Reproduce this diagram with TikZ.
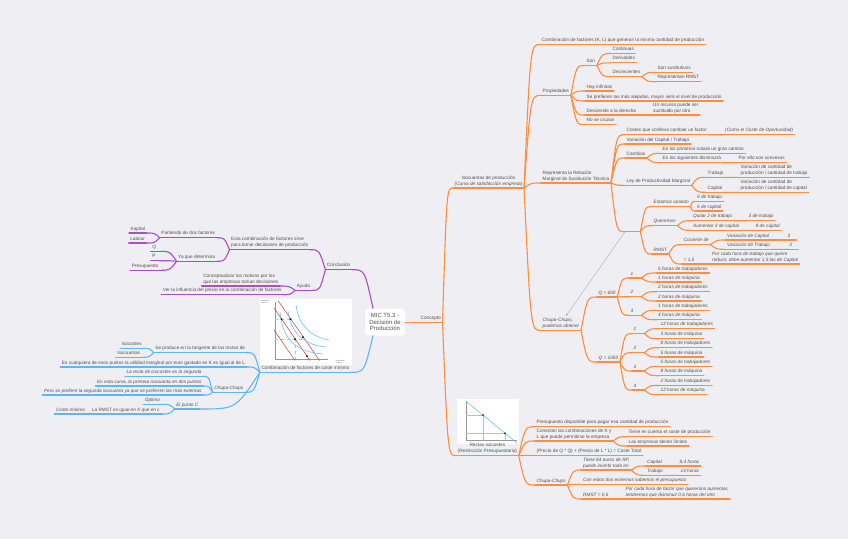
\documentclass[tikz,border=0pt]{standalone}
\usepackage{fontspec}
\setmainfont{Liberation Sans}
\usetikzlibrary{calc,arrows.meta}
\definecolor{bg}{RGB}{239,238,243}
\definecolor{ink}{RGB}{80,80,80}
\definecolor{orng}{RGB}{255,141,61}
\definecolor{purp}{RGB}{168,78,200}
\definecolor{skyb}{RGB}{92,184,245}
\definecolor{guide}{RGB}{236,170,170}
\definecolor{redl}{RGB}{205,60,50}

\begin{document}
\begin{tikzpicture}[x=1pt, y=-1pt,
    curve/.style={to path={.. controls ($(\tikztostart |- \tikztotarget)!0.4!(\tikztotarget)$) .. (\tikztotarget)}},
    oline/.style={draw=orng, line width=1.1pt, line cap=round},
    pline/.style={draw=purp, line width=1.1pt, line cap=round},
    bline/.style={draw=skyb, line width=1.1pt, line cap=round},
    topic/.style={inner xsep=1.5pt, inner ysep=1.1pt, text=ink, font=\fontsize{4.7}{6}\selectfont, align=left, text depth=0.3ex},
    ital/.style={font=\fontsize{4.7}{6}\selectfont\itshape},
    num/.style={text width=9pt},
    otopic/.style={topic, anchor=south west, append after command={(\tikzlastnode.south west) edge[oline] (\tikzlastnode.south east)}},
    ptopic/.style={topic, anchor=south east, append after command={(\tikzlastnode.south west) edge[pline] (\tikzlastnode.south east)}},
    btopic/.style={topic, anchor=south east, append after command={(\tikzlastnode.south west) edge[bline] (\tikzlastnode.south east)}},
    mic/.style={fill=white, rounded corners=3pt, minimum width=40pt, minimum height=27pt, inner sep=1pt, align=center, text=ink, font=\fontsize{6}{6.6}\selectfont},
    rel/.style={draw=ink!45, line width=0.4pt, -{Stealth[length=2.5pt, width=2.5pt]}},
]

    % Background
    \fill[bg] (0,0) rectangle (848,539);

    % Chart: coste minimo
    \fill[white] (260,299) rectangle (352,365);
    \draw[ink!60, line width=0.3pt] (274.7,302) -- (274.7,358.7) -- (328,358.7);
    \draw[guide, dashed, line width=0.3pt] (274.7,339) -- (303,339) (295,339) -- (295,358.7) (274.7,319) -- (290.5,319);
    \draw[redl, line width=0.5pt] (274,330) -- (295,360.5) (274,308) -- (310,360.5) (278,300.5) -- (319.5,360.5);
    \draw[skyb, line width=0.5pt] (280,312) .. controls (283,341) and (297,352) .. (323,354)
        (288,311) .. controls (291,334) and (305,345) .. (326,347)
        (296,305) .. controls (299,327) and (312,337) .. (329,340);
    \fill[black] (281.5,319) circle (1pt) (290.5,319) circle (1pt) (295,339) circle (1pt) (303,337) circle (1pt) (307,356) circle (1pt);
    \node[font=\fontsize{1.6}{2}\selectfont, text=ink, align=left, anchor=north west, inner sep=0pt] (ejk) at (261,300.5) {Cantidad de\\capital K};
    \node[font=\fontsize{1.6}{2}\selectfont, text=ink, align=left, anchor=north west, inner sep=0pt] (ejl) at (336,360) {Cantidad de\\trabajo L};

    % Chart: isocoste
    \fill[white] (456.7,399) rectangle (519.3,444.3);
    \draw[ink!60, line width=0.3pt] (465.7,401) -- (465.7,439.7) -- (517,439.7);
    \draw[guide, line width=0.3pt] (465.7,415) -- (483,415) -- (483,439.7) (465.7,433.3) -- (505,433.3) -- (505,439.7);
    \draw[skyb, line width=0.5pt] (465.7,401) -- (517,443);
    \fill[black] (483,415) circle (0.9pt) (505,433.3) circle (0.9pt);

    % Central topic
    \node[mic] (mic) at (385,322) {MIC T5.3 -\\Decisión de\\Producción};
    \coordinate (mtop) at ([xshift=-12pt]mic.north);
    \coordinate (mbot) at ([xshift=-12pt]mic.south);

    % Concepto (orange)
    \node[otopic] (con) at (419,322.5) {Concepto};
    \node[otopic, align=center] (iso) at (453,188) {Isocuantas de producción\\{\itshape (Curva de satisfacción empresa)}};
    \node[otopic] (comb) at (540,44.5) {Combinación de factores (K, L) que generan la misma cantidad de producción};

    % Propiedades
    \node[otopic] (prop) at (541,95.3) {Propiedades};
    \node[otopic] (son) at (585,65.5) {Son};
    \node[otopic] (cont) at (611,53.5) {Continuas};
    \node[otopic] (deriv) at (611,62.8) {Derivables};
    \node[otopic] (decr) at (611,76.7) {Decrecientes};
    \node[otopic] (sust) at (656,72.3) {Son sustitutivos};
    \node[otopic] (repr) at (656,81.7) {Representan RMST};
    \node[otopic] (hay) at (585,91) {Hay infinitas};
    \node[otopic] (pref) at (585,101) {Se prefieren las más alejadas, mayor será el nivel de producción};
    \node[otopic] (desc) at (585,115) {Desciende a la derecha};
    \node[otopic] (recu) at (651.5,115) {Un recurso puede ser\\sustituido por otro};
    \node[otopic] (nocr) at (585,124.7) {No se cruzan};

    % RMST
    \node[otopic] (rmst) at (541,183) {Representa la Relación\\Marginal de Sustitución Técnica};
    \node[otopic] (cost) at (625,134.7) {Costes que conlleva cambiar un factor};
    \node[otopic, ital] (opor) at (723.5,134.7) {(Como el Coste de Oportunidad)};
    \node[otopic] (vari) at (625,144) {Variación del Capital / Trabajo};
    \node[otopic] (camb) at (625,158) {Cambios};
    \node[otopic] (prim) at (661,153.3) {En los primeros notará un gran cambio};
    \node[otopic] (sigu) at (661,162.7) {En los siguientes disminuirá};
    \node[otopic] (conv) at (737,162.7) {Por ello son convexas};
    \node[otopic] (ley) at (625,185.3) {Ley de Productividad Marginal};
    \node[otopic] (trab) at (706,177.3) {Trabajo};
    \node[otopic] (vtra) at (739,177.3) {Variación de cantidad de\\producción / cantidad de trabajo};
    \node[otopic] (capi) at (706,192.3) {Capital};
    \node[otopic] (vcap) at (739,192.3) {Variación de cantidad de\\producción / cantidad de capital};
    \node[otopic, minimum width=15pt] (ejem) at (625,231.7) {};
    \node[otopic, ital] (usa) at (652,206.7) {Estamos usando};
    \node[otopic, ital] (u5) at (695.5,201.3) {5 de trabajo};
    \node[otopic, ital] (u6) at (695.5,211) {6 de capital};
    \node[otopic, ital] (quer) at (652,225.7) {Queremos};
    \node[otopic, ital] (quit) at (691.5,220.7) {Quitar 2 de trabajo};
    \node[otopic, ital] (q3) at (747,220.7) {3 de trabajo};
    \node[otopic, ital] (aume) at (691.5,230.3) {Aumentar 3 de capital};
    \node[otopic, ital] (q9) at (754,230.3) {9 de capital};
    \node[otopic, ital] (rms) at (652,254) {RMST};
    \node[otopic, ital] (coc) at (682,244.7) {Cociente de};
    \node[otopic, ital] (vc) at (725.5,240) {Variación de Capital};
    \node[otopic, ital, text width=7pt] (v3) at (786,240) {3};
    \node[otopic, ital] (vt) at (725.5,249.3) {Variación de Trabajo};
    \node[otopic, ital, text width=7pt] (v2) at (788,249.3) {2};
    \node[otopic, ital] (igu) at (682,264) {= 1,5};
    \node[otopic, ital] (porc) at (710.5,264) {Por cada hora de trabajo que quiere\\reducir, debe aumentar 1,5 las de Capital};

    % Chupa-Chups (isocuantas)
    \node[otopic, ital] (chu) at (541,330.5) {Chupa-Chups,\\podemos obtener};
    \node[otopic, ital] (q600) at (597,297) {Q = 600};
    \node[otopic, ital, num] (a1) at (629,278) {1};
    \node[otopic, ital] (a1t) at (656.5,273) {5 horas de trabajadores};
    \node[otopic, ital] (a1m) at (656.5,282) {1 horas de máquina};
    \node[otopic, ital, num] (a2) at (629,296.7) {2};
    \node[otopic, ital] (a2t) at (656.5,291.7) {2 horas de trabajadores};
    \node[otopic, ital] (a2m) at (656.5,301) {2 horas de máquina};
    \node[otopic, ital, num] (a3) at (629,315.3) {3};
    \node[otopic, ital] (a3t) at (656.5,310.3) {1 horas de trabajadores};
    \node[otopic, ital] (a3m) at (656.5,319.7) {4 horas de máquina};
    \node[otopic, ital] (q1050) at (597,362) {Q = 1050};
    \node[otopic, ital, num] (b1) at (632,333.7) {1};
    \node[otopic, ital] (b1t) at (659,328.7) {12 horas de trabajadores};
    \node[otopic, ital] (b1m) at (659,338.7) {3 horas de máquina};
    \node[otopic, ital, num] (b2) at (632,352.7) {2};
    \node[otopic, ital] (b2t) at (659,347.7) {8 horas de trabajadores};
    \node[otopic, ital] (b2m) at (659,357) {5 horas de máquina};
    \node[otopic, ital, num] (b3) at (632,371) {3};
    \node[otopic, ital] (b3t) at (659,366.3) {5 horas de trabajadores};
    \node[otopic, ital] (b3m) at (659,375.7) {8 horas de máquina};
    \node[otopic, ital, num] (b4) at (632,390) {4};
    \node[otopic, ital] (b4t) at (659,385.3) {2 horas de trabajadores};
    \node[otopic, ital] (b4m) at (659,394.7) {12 horas de máquina};

    % Rectas isocostes
    \node[otopic, align=center] (rec) at (456,455.7) {Rectas isocostes\\(Restricción Presupuestaria)};
    \node[otopic] (pres) at (535,426.7) {Presupuesto disponible para pagar esa cantidad de producción};
    \node[otopic] (cone) at (535,441) {Conectan las combinaciones de K y\\L que puede permitirse la empresa};
    \node[otopic] (tien) at (627,436.7) {Tiene en cuenta el coste de producción};
    \node[otopic] (lim) at (627,446) {Las empresas tienen límites};
    \node[otopic] (prec) at (535,455.3) {(Precio de Q * Q) + (Precio de L * L) = Coste Total};
    \node[otopic, ital] (chub) at (535,485) {Chupa-Chups};
    \node[otopic, ital] (t84) at (581.5,470) {Tiene 84 euros de RP,\\puede invertir todo en};
    \node[otopic, ital] (ca) at (645.5,466) {Capital};
    \node[otopic, ital] (ca84) at (678,466) {8,4 horas};
    \node[otopic, ital] (tr) at (645.5,475.3) {Trabajo};
    \node[otopic, ital] (tr14) at (679,475.3) {14 horas};
    \node[otopic, ital] (ext) at (581.5,484.3) {Con estos dos extremos sabemos el presupuesto};
    \node[otopic, ital] (r06) at (581.5,499) {RMST = 0,6};
    \node[otopic, ital] (r06t) at (624,499) {Por cada hora de factor que queremos aumentar,\\tendremos que disminuir 0,6 horas del otro};

    % Conclusion (purple)
    \node[ptopic] (conc) at (352,269.7) {Conclusión};
    \node[ptopic] (sirv) at (310,249.7) {Esta combinación de factores sirve\\para tomar decisiones de producción};
    \node[ptopic] (part) at (216.7,237.7) {Partiendo de dos factores};
    \node[ptopic] (kap) at (146.7,233) {Kapital};
    \node[ptopic] (lab) at (146.7,243) {Labour};
    \node[ptopic] (ya) at (216.7,261.3) {Ya que determina};
    \node[ptopic, text width=6pt] (qq) at (160,251.3) {Q};
    \node[ptopic, text width=6pt] (pp) at (160,260.7) {P};
    \node[ptopic] (presu) at (160,270.3) {Presupuesto};
    \node[ptopic] (ayu) at (311.7,290.3) {Ayuda};
    \node[ptopic] (conce) at (280,286) {Conceptualizar los motivos por los\\que las empresas toman decisiones};
    \node[ptopic] (ver) at (283.3,294.7) {Ver la influencia del precio en la combinación de factores};

    % Coste minimo (blue)
    \node[btopic] (cfm) at (351,372.3) {Combinación de factores de coste mínimo};
    \node[btopic] (tang) at (246.7,352.7) {Se produce en la tangente de las rectas de};
    \node[btopic] (isoc) at (143.3,348.3) {Isocostes};
    \node[btopic] (isoq) at (141.7,357.3) {Isocuantas};
    \node[btopic] (cual) at (246.7,367) {En cualquiera de esos puntos la utilidad marginal por euro gastado en K es igual al de L};
    \node[btopic, ital] (chuc) at (245,392.3) {Chupa-Chups};
    \node[btopic, ital] (rec2) at (203.3,376.3) {La recta de isocostes es la segunda};
    \node[btopic, ital] (curv) at (203.3,386) {En esta curva, la primera isocuanta en dos puntos};
    \node[btopic, ital] (pero) at (203.3,395) {Pero se prefiere la segunda isocuanta ya que se prefieren las más externas};
    \node[btopic, ital] (pc) at (200,409) {El punto C};
    \node[btopic, ital] (opt) at (161.7,404.3) {Óptimo};
    \node[btopic, ital] (igk) at (161.7,414) {La RMST es igual en K que en L};
    \node[btopic, ital] (cmin) at (86.7,414) {Coste mínimo};

    % Branches
    \draw[oline] (mic.east |- con.south west) -- (con.south west);
    \draw[pline] (mtop) to[curve] (conc.south east);
    \draw[bline] (mbot) to[curve] (cfm.south east);
    \foreach \a/\b in {con/iso, con/rec, iso/comb, iso/prop, iso/rmst, iso/chu,
        prop/son, prop/hay, prop/pref, prop/desc, prop/nocr, son/cont, son/deriv, son/decr,
        decr/sust, decr/repr, desc/recu, rmst/cost, rmst/vari, rmst/camb, rmst/ley, rmst/ejem,
        cost/opor, camb/prim, camb/sigu, sigu/conv, ley/trab, ley/capi, trab/vtra, capi/vcap,
        ejem/usa, ejem/quer, ejem/rms, usa/u5, usa/u6, quer/quit, quer/aume, quit/q3, aume/q9,
        rms/coc, rms/igu, coc/vc, coc/vt, vc/v3, vt/v2, igu/porc,
        chu/q600, chu/q1050, q600/a1, q600/a2, q600/a3, a1/a1t, a1/a1m, a2/a2t, a2/a2m, a3/a3t, a3/a3m,
        q1050/b1, q1050/b2, q1050/b3, q1050/b4, b1/b1t, b1/b1m, b2/b2t, b2/b2m, b3/b3t, b3/b3m, b4/b4t, b4/b4m,
        rec/pres, rec/cone, rec/prec, rec/chub, cone/tien, cone/lim, chub/t84, chub/ext, chub/r06,
        t84/ca, t84/tr, ca/ca84, tr/tr14, r06/r06t}
        \draw[oline] (\a.south east) to[curve] (\b.south west);
    \foreach \a/\b in {conc/sirv, conc/ayu, sirv/part, sirv/ya, part/kap, part/lab, ya/qq, ya/pp, ya/presu, ayu/conce, ayu/ver}
        \draw[pline] (\a.south west) to[curve] (\b.south east);
    \foreach \a/\b in {cfm/tang, cfm/cual, cfm/chuc, cfm/pc, tang/isoc, tang/isoq, chuc/rec2, chuc/curv, chuc/pero, pc/opt, pc/igk, igk/cmin}
        \draw[bline] (\a.south west) to[curve] (\b.south east);

    % Relationship
    \draw[rel] (ejem.south west) -- ([xshift=5pt,yshift=1pt]chu.north);

\end{tikzpicture}
\end{document}
